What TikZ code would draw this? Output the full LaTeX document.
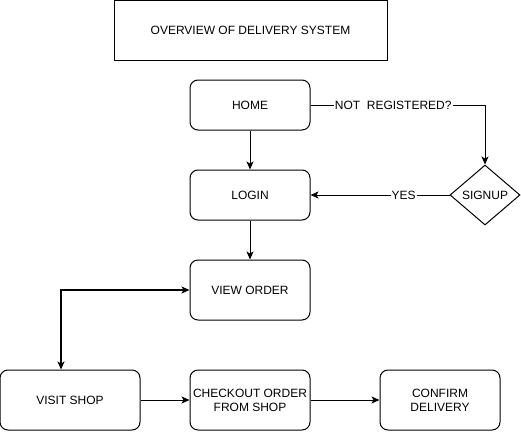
\documentclass[tikz,border=0pt]{standalone}
\usepackage{fontspec}
\setmainfont{Liberation Sans}
\usetikzlibrary{shapes.geometric,arrows.meta}
\begin{document}
\begin{tikzpicture}[x=1pt,y=-1pt,
  txt/.style={font=\fontsize{12}{14}\selectfont},
  box/.style={draw,line width=1pt,rounded corners=8pt,inner sep=0pt,align=center,txt},
  conn/.style={draw,line width=1pt,-{Stealth[length=8pt,width=7pt,inset=2pt]}},
  lbl/.style={fill=white,inner sep=1pt,txt}]
\useasboundingbox (0,0) rectangle (521,431);
\node[draw,line width=1pt,minimum width=273pt,minimum height=60pt,inner sep=0pt,txt] (title) at (250.5,30.5) {OVERVIEW OF DELIVERY SYSTEM};
\node[box,minimum width=120pt,minimum height=50pt] (home) at (250,105) {HOME};
\node[box,minimum width=120pt,minimum height=50pt] (login) at (250,195) {LOGIN};
\node[box,minimum width=120pt,minimum height=60pt] (view) at (250,290) {VIEW ORDER};
\node[box,minimum width=140pt,minimum height=60pt] (visit) at (70,400) {VISIT SHOP};
\node[box,minimum width=120pt,minimum height=60pt] (checkout) at (250,400) {CHECKOUT ORDER\\FROM SHOP};
\node[box,minimum width=120pt,minimum height=60pt] (confirm) at (440,400) {CONFIRM\\DELIVERY};
\node[draw,line width=1pt,diamond,inner sep=0pt,minimum width=70pt,minimum height=60pt,txt] (signup) at (485,195) {SIGNUP};
\coordinate (bend) at (61,290);
\path[conn] (home) -- (login);
\path[conn] (login) -- (view);
\path[conn] (home.east) -| (signup.north) node[lbl,pos=0.237] {NOT\ \ REGISTERED?};
\path[conn] (signup.west) -- (login.east) node[lbl,pos=0.33] {YES};
\draw[line width=1.5pt,{Stealth[length=8pt,width=7pt,inset=2pt]}-{Stealth[length=8pt,width=7pt,inset=2pt]}]
  (view.west) -- (bend) -- (bend |- visit.north);
\path[conn] (visit) -- (checkout);
\path[conn] (checkout) -- (confirm);
\end{tikzpicture}
\end{document}
